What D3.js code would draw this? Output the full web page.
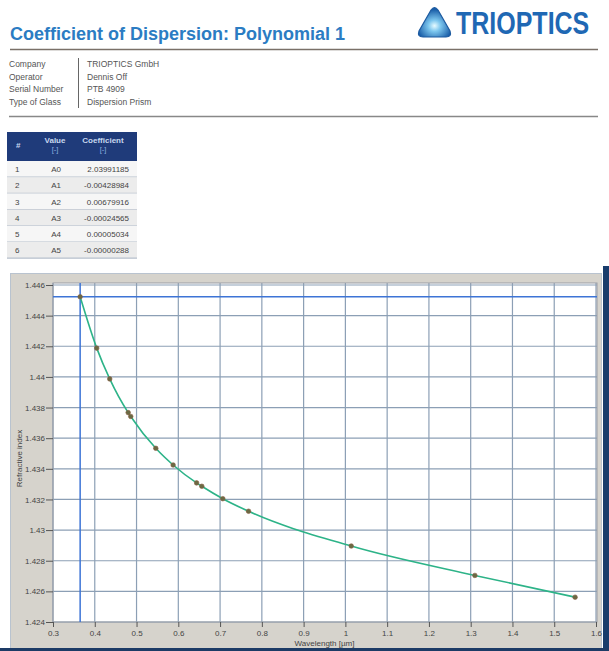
<!DOCTYPE html>
<html><head><meta charset="utf-8">
<script src="https://cdn.jsdelivr.net/npm/d3@7"></script>
<style>
body{margin:0;background:#fff}
svg{display:block}
text{font-family:"Liberation Sans",Arial,sans-serif}
</style>
</head><body>
<svg id="c" width="609" height="651"></svg>
<script>
// ---------- data ----------
const title = "Coefficient of Dispersion: Polynomial 1";
const logoText = "TRIOPTICS";
const infoLabels = ["Company", "Operator", "Serial Number", "Type of Glass"];
const infoValues = ["TRIOPTICS GmbH", "Dennis Off", "PTB 4909", "Dispersion Prism"];
const tableHeaders = ["#", "Value", "Coefficient"];
const tableUnits = ["", "[-]", "[-]"];
const tableNumbers = ["1", "2", "3", "4", "5", "6"];
const tableValues = ["A0", "A1", "A2", "A3", "A4", "A5"];
const tableCoefficients = ["2.03991185", "-0.00428984", "0.00679916", "-0.00024565", "0.00005034", "-0.00000288"];
const wavelengths = [0.365, 0.4047, 0.4358, 0.48, 0.4861, 0.5461, 0.5876, 0.6438, 0.6563, 0.7065, 0.7682, 1.014, 1.31, 1.55];
const refractiveIndex = [1.44523, 1.44188, 1.43987, 1.43767, 1.43742, 1.43534, 1.43425, 1.43308, 1.43286, 1.43205, 1.43123, 1.42896, 1.42704, 1.42562];
const xTicks = [0.3, 0.4, 0.5, 0.6, 0.7, 0.8, 0.9, 1.0, 1.1, 1.2, 1.3, 1.4, 1.5, 1.6];
const xTickLabels = ["0.3", "0.4", "0.5", "0.6", "0.7", "0.8", "0.9", "1", "1.1", "1.2", "1.3", "1.4", "1.5", "1.6"];
const yTicks = [1.424, 1.426, 1.428, 1.430, 1.432, 1.434, 1.436, 1.438, 1.440, 1.442, 1.444, 1.446];
const yTickLabels = ["1.424", "1.426", "1.428", "1.43", "1.432", "1.434", "1.436", "1.438", "1.44", "1.442", "1.444", "1.446"];
const xTitle = "Wavelength [µm]";
const yTitle = "Refractive index";
const cursorX = 0.365;
const cursorY = 1.44523;

// ---------- drawing ----------
const svg = d3.select("#c");

// header
svg.append("text").attr("x", 10).attr("y", 40)
  .attr("font-size", 18).attr("font-weight", "bold").attr("fill", "#2b7cc3")
  .text(title);

const defs = svg.append("defs");
const rg = defs.append("radialGradient").attr("id", "lg").attr("cx", "50%").attr("cy", "62%").attr("r", "55%");
rg.append("stop").attr("offset", "0%").attr("stop-color", "#e8fbff");
rg.append("stop").attr("offset", "35%").attr("stop-color", "#7cc6ee");
rg.append("stop").attr("offset", "100%").attr("stop-color", "#1a5ea8");
svg.append("path")
  .attr("d", "M431,10 Q434.5,5 438,10 L450,31 Q452,37 446,37 L423,37 Q417,37 419,31 Z")
  .attr("fill", "url(#lg)").attr("stroke", "#1c5aa0").attr("stroke-width", 1.2);
svg.append("text").attr("transform", "translate(456,34) scale(1,1.22)")
  .attr("font-size", 25).attr("font-weight", "bold").attr("fill", "#1f68b4")
  .text(logoText);

svg.append("line").attr("x1", 10).attr("x2", 598).attr("y1", 49.5).attr("y2", 49.5)
  .attr("stroke", "#7a7068").attr("stroke-width", 1.5);

// info block
const info = svg.append("g").attr("font-size", 8.5).attr("fill", "#555");
infoLabels.forEach((t, i) => {
  info.append("text").attr("x", 9).attr("y", 67 + i * 12.5).text(t);
  info.append("text").attr("x", 87).attr("y", 67 + i * 12.5).text(infoValues[i]);
});
svg.append("line").attr("x1", 78.5).attr("x2", 78.5).attr("y1", 58).attr("y2", 108)
  .attr("stroke", "#666").attr("stroke-width", 1);
svg.append("line").attr("x1", 9).attr("x2", 598).attr("y1", 116.5).attr("y2", 116.5)
  .attr("stroke", "#888").attr("stroke-width", 1.5);

// coefficient table
const tbl = svg.append("g");
const tx0 = 7, tx1 = 137, headTop = 132, headBot = 161, rowH = 16.2;
tbl.append("rect").attr("x", tx0).attr("y", headTop).attr("width", tx1 - tx0).attr("height", headBot - headTop)
  .attr("fill", "#1f3b7a");
tbl.append("text").attr("x", 16).attr("y", 148).attr("font-size", 8).attr("font-weight", "bold").attr("fill", "#c8d8f0").text(tableHeaders[0]);
[[55, 1], [103, 2]].forEach(([cx, k]) => {
  tbl.append("text").attr("x", cx).attr("y", 143).attr("text-anchor", "middle").attr("font-size", 8)
    .attr("font-weight", "bold").attr("fill", "#c8d8f0").text(tableHeaders[k]);
  tbl.append("text").attr("x", cx).attr("y", 152).attr("text-anchor", "middle").attr("font-size", 7.5)
    .attr("fill", "#8fb0e0").text(tableUnits[k]);
});
tableNumbers.forEach((n, i) => {
  const top = headBot + i * rowH;
  tbl.append("rect").attr("x", tx0).attr("y", top).attr("width", tx1 - tx0).attr("height", rowH)
    .attr("fill", i % 2 ? "#ececec" : "#f6f6f6");
  tbl.append("line").attr("x1", tx0).attr("x2", tx1).attr("y1", top + rowH).attr("y2", top + rowH)
    .attr("stroke", "#b6bfcc").attr("stroke-width", 1.2);
  const by = top + rowH / 2 + 3;
  tbl.append("text").attr("x", 15).attr("y", by).attr("font-size", 8).attr("fill", "#444").text(n);
  tbl.append("text").attr("x", 61).attr("y", by).attr("text-anchor", "end").attr("font-size", 8).attr("fill", "#444").text(tableValues[i]);
  tbl.append("text").attr("x", 129).attr("y", by).attr("text-anchor", "end").attr("font-size", 8).attr("fill", "#444").text(tableCoefficients[i]);
});

// chart panel
svg.append("rect").attr("x", 10.5).attr("y", 273.5).attr("width", 591).attr("height", 375)
  .attr("fill", "#d6d3cc").attr("stroke", "#b9c3cf").attr("stroke-width", 1);
svg.append("rect").attr("x", 603).attr("y", 266).attr("width", 6).attr("height", 385).attr("fill", "#183c6c");
svg.append("rect").attr("x", 0).attr("y", 648).attr("width", 609).attr("height", 3).attr("fill", "#1d3b66");

const L = 53, R = 596, T = 285, B = 622;
const x = d3.scaleLinear().domain([0.3, 1.6]).range([L, R]);
const y = d3.scaleLinear().domain([1.424, 1.446]).range([B, T]);

svg.append("rect").attr("x", L).attr("y", T - 2).attr("width", R - L + 1).attr("height", B - T + 2)
  .attr("fill", "#fff");

// grid
const grid = svg.append("g").attr("stroke", "#8c9fb5").attr("stroke-width", 1.2);
grid.selectAll("line.v").data(xTicks).join("line")
  .attr("x1", d => x(d)).attr("x2", d => x(d)).attr("y1", T - 2).attr("y2", B);
grid.selectAll("line.h").data(yTicks).join("line")
  .attr("x1", L).attr("x2", R + 1).attr("y1", d => y(d)).attr("y2", d => y(d));

svg.append("rect").attr("x", L).attr("y", T - 2).attr("width", R - L + 1).attr("height", B - T + 2)
  .attr("fill", "none").attr("stroke", "#9a9ea6").attr("stroke-width", 1);

// cursors
svg.append("line").attr("x1", x(cursorX)).attr("x2", x(cursorX)).attr("y1", T - 2).attr("y2", B)
  .attr("stroke", "#3d74d6").attr("stroke-width", 1.5);
svg.append("line").attr("x1", L).attr("x2", R + 1).attr("y1", y(cursorY)).attr("y2", y(cursorY))
  .attr("stroke", "#3d74d6").attr("stroke-width", 1.5);

// axes
const yAxis = svg.append("g").attr("transform", `translate(${L},0)`)
  .call(d3.axisLeft(y).tickValues(yTicks).tickFormat((d, i) => yTickLabels[i]).tickSize(7).tickPadding(1));
const xAxis = svg.append("g").attr("transform", `translate(0,${B})`)
  .call(d3.axisBottom(x).tickValues(xTicks).tickFormat((d, i) => xTickLabels[i]).tickSize(5).tickPadding(3));
[yAxis, xAxis].forEach(a => {
  a.select(".domain").remove();
  a.selectAll(".tick line").attr("stroke", "#555");
  a.selectAll(".tick text").attr("fill", "#444").attr("font-size", 8)
    .attr("font-family", "\"Liberation Sans\",Arial,sans-serif");
});

svg.append("text").attr("x", (L + R) / 2).attr("y", 646).attr("text-anchor", "middle")
  .attr("font-size", 8).attr("fill", "#444").text(xTitle);
svg.append("text").attr("transform", `translate(22,${(T + B) / 2 + 5}) rotate(-90)`).attr("text-anchor", "middle")
  .attr("font-size", 8).attr("fill", "#444").text(yTitle);

// data curve and points
const pts = wavelengths.map((w, i) => [w, refractiveIndex[i]]);
svg.append("path").datum(pts)
  .attr("d", d3.line().x(d => x(d[0])).y(d => y(d[1])).curve(d3.curveMonotoneX))
  .attr("fill", "none").attr("stroke", "#2db388").attr("stroke-width", 1.6);
svg.selectAll("circle.pt").data(pts).join("circle")
  .attr("cx", d => x(d[0])).attr("cy", d => y(d[1])).attr("r", 2.3)
  .attr("fill", "#6a6a44").attr("stroke", "#8a5c42").attr("stroke-width", 0.6);
</script>
</body></html>
